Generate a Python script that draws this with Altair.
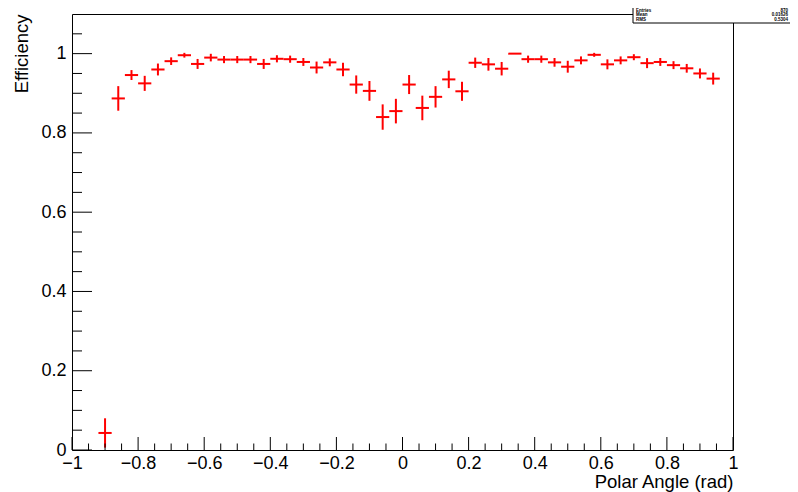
import altair as alt
import pandas as pd

# ---- data ----
x_centers = [-0.90, -0.86, -0.82, -0.78, -0.74, -0.70, -0.66, -0.62, -0.58, -0.54,
             -0.50, -0.46, -0.42, -0.38, -0.34, -0.30, -0.26, -0.22, -0.18, -0.14,
             -0.10, -0.06, -0.02, 0.02, 0.06, 0.10, 0.14, 0.18, 0.22, 0.26,
             0.30, 0.34, 0.38, 0.42, 0.46, 0.50, 0.54, 0.58, 0.62, 0.66,
             0.70, 0.74, 0.78, 0.82, 0.86, 0.90, 0.94]
efficiency = [0.043, 0.887, 0.946, 0.925, 0.960, 0.981, 0.996, 0.974, 0.990, 0.985,
              0.985, 0.985, 0.974, 0.987, 0.986, 0.979, 0.965, 0.978, 0.960, 0.922,
              0.906, 0.840, 0.855, 0.922, 0.863, 0.891, 0.935, 0.905, 0.977, 0.973,
              0.962, 1.000, 0.986, 0.986, 0.978, 0.967, 0.983, 0.997, 0.973, 0.983,
              0.991, 0.976, 0.979, 0.971, 0.963, 0.950, 0.937]
errors = [0.037, 0.031, 0.0125, 0.019, 0.015, 0.0096, 0.006, 0.0126, 0.0096, 0.009,
          0.009, 0.009, 0.0126, 0.009, 0.009, 0.010, 0.015, 0.010, 0.017, 0.023,
          0.025, 0.032, 0.031, 0.024, 0.031, 0.027, 0.022, 0.024, 0.013, 0.016,
          0.017, 0.0, 0.009, 0.009, 0.011, 0.015, 0.010, 0.005, 0.0126, 0.010,
          0.0076, 0.0126, 0.010, 0.010, 0.011, 0.0126, 0.015]
half_bin = [0.02] * len(x_centers)

x_major = [-1, -0.8, -0.6, -0.4, -0.2, 0, 0.2, 0.4, 0.6, 0.8, 1]
x_minor = [-0.95, -0.9, -0.85, -0.75, -0.7, -0.65, -0.55, -0.5, -0.45, -0.35, -0.3, -0.25,
           -0.15, -0.1, -0.05, 0.05, 0.1, 0.15, 0.25, 0.3, 0.35, 0.45, 0.5, 0.55,
           0.65, 0.7, 0.75, 0.85, 0.9, 0.95]
y_major = [0, 0.2, 0.4, 0.6, 0.8, 1]
y_minor = [0.05, 0.1, 0.15, 0.25, 0.3, 0.35, 0.45, 0.5, 0.55, 0.65, 0.7, 0.75,
           0.85, 0.9, 0.95, 1.05]

stat_names = ["Entries", "Mean", "RMS"]
stat_values = ["870", "0.01626", "0.5304"]

W, H = 661, 436
FONT = "Liberation Sans"
RED = "#ff0000"

df = pd.DataFrame({"x": x_centers, "eff": efficiency, "err": errors, "hw": half_bin})

xscale = alt.Scale(domain=[-1, 1], nice=False, zero=False)
yscale = alt.Scale(domain=[0, 1.1], nice=False, zero=False)

x_axis = alt.Axis(values=x_major, format="~g", ticks=False, tickSize=0, domain=False,
                  grid=False, labelFont=FONT, labelFontSize=18, labelColor="black",
                  labelPadding=18, labelBaseline="alphabetic", labelFlush=False,
                  labelOverlap=False, title="Polar Angle (rad)", titleFont=FONT,
                  titleFontSize=18.5, titleFontWeight="normal", titleColor="black",
                  titleAnchor="end", titleAlign="right", titleBaseline="alphabetic",
                  titleX=W, titleY=37)
y_axis = alt.Axis(values=y_major, format="~g", ticks=False, tickSize=0, domain=False,
                  grid=False, labelFont=FONT, labelFontSize=18, labelColor="black",
                  labelPadding=6, labelBaseline="middle", labelFlush=False,
                  labelOverlap=False, title="Efficiency", titleFont=FONT,
                  titleFontSize=18.5, titleFontWeight="normal", titleColor="black",
                  titleAngle=270, titleAlign="right", titleBaseline="alphabetic",
                  titleX=-45, titleY=0)

base = alt.Chart(df).transform_calculate(
    lo="datum.eff - datum.err", hi="datum.eff + datum.err",
    xl="datum.x - datum.hw", xr="datum.x + datum.hw")

vbars = base.mark_rule(color=RED, strokeWidth=2).encode(
    x=alt.X("x:Q", scale=xscale, axis=x_axis),
    y=alt.Y("lo:Q", scale=yscale, axis=y_axis),
    y2="hi:Q")
hbars = base.mark_rule(color=RED, strokeWidth=2).encode(
    x=alt.X("xl:Q", scale=xscale, axis=x_axis),
    x2="xr:Q",
    y=alt.Y("eff:Q", scale=yscale, axis=y_axis))

xmaj = alt.Chart(pd.DataFrame({"v": x_major})).mark_rule(color="black", strokeWidth=1).encode(
    x=alt.X("v:Q", scale=xscale, axis=x_axis), y=alt.value(H - 13), y2=alt.value(H))
xmin = alt.Chart(pd.DataFrame({"v": x_minor})).mark_rule(color="black", strokeWidth=1).encode(
    x=alt.X("v:Q", scale=xscale, axis=x_axis), y=alt.value(H - 6.5), y2=alt.value(H))
ymaj = alt.Chart(pd.DataFrame({"v": y_major})).mark_rule(color="black", strokeWidth=1).encode(
    y=alt.Y("v:Q", scale=yscale, axis=y_axis), x=alt.value(0), x2=alt.value(20))
ymin = alt.Chart(pd.DataFrame({"v": y_minor})).mark_rule(color="black", strokeWidth=1).encode(
    y=alt.Y("v:Q", scale=yscale, axis=y_axis), x=alt.value(0), x2=alt.value(10))

# statistics box (top right, partly outside the page as in the reference)
one = pd.DataFrame({"a": [0]})
box = alt.Chart(one).mark_rect(fill="white", stroke="black", strokeWidth=1).encode(
    x=alt.value(561), x2=alt.value(740), y=alt.value(-20), y2=alt.value(9))

stat_layers = []
row_y = [-3.5, 1.0, 5.5]
for name, val, ry in zip(stat_names, stat_values, row_y):
    stat_layers.append(alt.Chart(one).mark_text(
        font=FONT, fontSize=4.5, fontWeight="bold", color="black", align="left",
        baseline="middle", text=name).encode(x=alt.value(564), y=alt.value(ry)))
    stat_layers.append(alt.Chart(one).mark_text(
        font=FONT, fontSize=4.5, fontWeight="bold", color="black", align="right",
        baseline="middle", text=val).encode(x=alt.value(716), y=alt.value(ry)))

chart = alt.layer(
    vbars, hbars, xmaj, xmin, ymaj, ymin, box, *stat_layers
).properties(
    width=W, height=H,
    autosize=alt.AutoSizeParams(type="none"),
    padding={"left": 64, "top": 6, "right": 57, "bottom": 42},
    background="white",
).configure_view(stroke="black", strokeWidth=1)

chart.save("out.html", embed_options={"renderer": "svg", "actions": False})
